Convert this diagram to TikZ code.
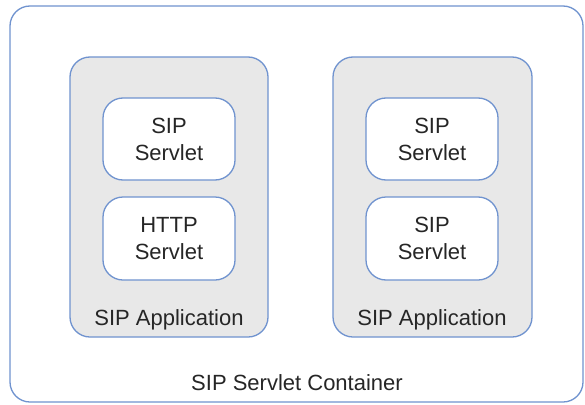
\documentclass[tikz,border=0pt]{standalone}
\usepackage{fontspec}
\setmainfont{Liberation Sans}
\definecolor{bord}{HTML}{7093CF}
\definecolor{appfill}{HTML}{E8E8E8}
\definecolor{txt}{HTML}{262626}
\begin{document}
\begin{tikzpicture}[x=1pt,y=-1pt,
  container/.style={draw=bord,line width=1.3pt,rounded corners=20pt,fill=white},
  appbox/.style={draw=bord,line width=1.3pt,rounded corners=20pt,fill=appfill},
  servlet/.style={draw=bord,line width=1.3pt,rounded corners=20pt,fill=white},
  lbl/.style={text=txt,font=\fontsize{22}{27}\selectfont,align=center,inner sep=0pt}]
\useasboundingbox (0,0) rectangle (585,404);
\draw[container] (10,6) rectangle (583,402);
\draw[appbox] (70,57) rectangle (268,337);
\draw[appbox] (333,57) rectangle (532,337);
\draw[servlet] (103,98) rectangle (235,180);
\draw[servlet] (103,197) rectangle (235,280);
\draw[servlet] (366,98) rectangle (498,180);
\draw[servlet] (366,197) rectangle (498,280);
\node[lbl] (s1) at (169,139) {SIP\\Servlet};
\node[lbl] (s2) at (169,238.5) {HTTP\\Servlet};
\node[lbl] (s3) at (432,139) {SIP\\Servlet};
\node[lbl] (s4) at (432,238.5) {SIP\\Servlet};
\node[lbl] (a1) at (169,320) {SIP Application};
\node[lbl] (a2) at (432,320) {SIP Application};
\node[lbl] (c) at (297,383) {SIP Servlet Container};
\end{tikzpicture}
\end{document}
